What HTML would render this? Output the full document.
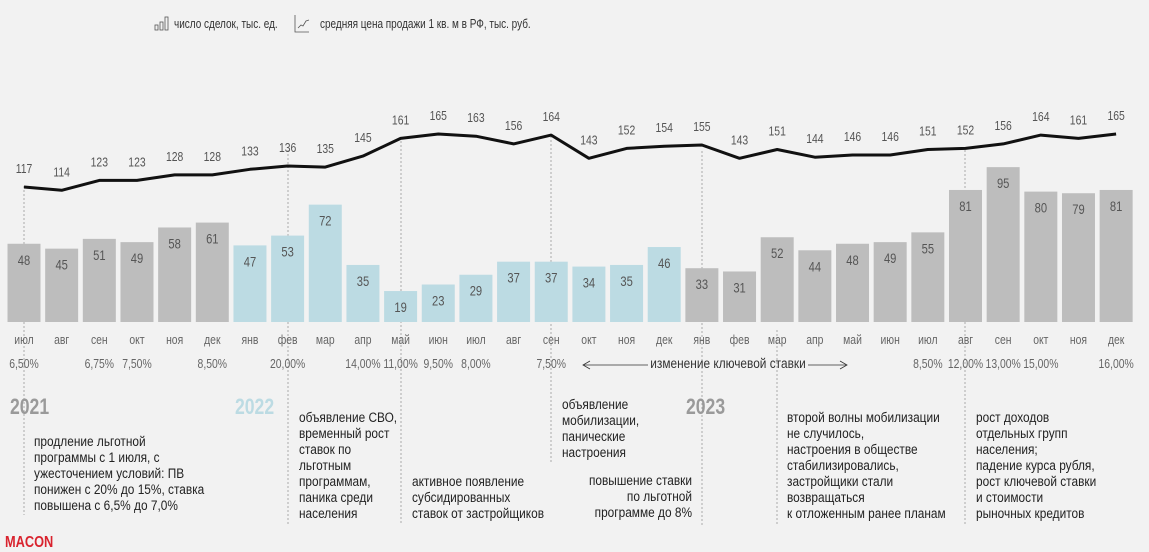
<!DOCTYPE html>
<html><head><meta charset="utf-8">
<style>
html,body{margin:0;padding:0;background:#f2f2f2;}
svg{display:block;font-family:"Liberation Sans Narrow","Liberation Sans",sans-serif;}
</style></head>
<body>
<svg id="s" width="1149" height="552" viewBox="0 0 1149 552" xmlns="http://www.w3.org/2000/svg">
<rect width="1149" height="552" fill="#f2f2f2"/>
<g fill="none" stroke="#555" stroke-width="0.8">
<rect x="155" y="25" width="3" height="5"/><rect x="160" y="22" width="3" height="8"/><rect x="165" y="17" width="3" height="13"/>
<polyline points="295,15 295,32 309,32"/><polyline points="298,28 301,25 303,26 306,21 309,20"/>
</g>
<g id="g"></g>
</svg>
<script>
var months=["июл","авг","сен","окт","ноя","дек","янв","фев","мар","апр","май","июн","июл","авг","сен","окт","ноя","дек","янв","фев","мар","апр","май","июн","июл","авг","сен","окт","ноя","дек"];
var bars=[48,45,51,49,58,61,47,53,72,35,19,23,29,37,37,34,35,46,33,31,52,44,48,49,55,81,95,80,79,81];
var line=[117,114,123,123,128,128,133,136,135,145,161,165,163,156,164,143,152,154,155,143,151,144,146,146,151,152,156,164,161,165];
var rates={0:"6,50%",2:"6,75%",3:"7,50%",5:"8,50%",7:"20,00%",9:"14,00%",10:"11,00%",11:"9,50%",12:"8,00%",14:"7,50%",24:"8,50%",25:"12,00%",26:"13,00%",27:"15,00%",29:"16,00%"};
var h="";
function cx(i){return 24+i*37.66;}
function ly(v){return 187-(v-117)*1.104;}
function T(x,y,s,size,fill,anchor,extra,sc){
 return '<text transform="translate('+x+','+y+') scale('+(sc||0.8)+',1)" font-size="'+size+'" fill="'+fill+'"'+(anchor?' text-anchor="'+anchor+'"':'')+(extra||'')+'>'+s+'</text>';
}
h+=T(174,28,"число сделок, тыс. ед.",12.5,"#333");
h+=T(320,28,"средняя цена продажи 1 кв. м в РФ, тыс. руб.",12.5,"#333");
var dl=[[24,186,515],[288,150,525],[401,137,525],[551,136,462],[702,151,525],[777,330,525],[965,150,525]];
dl.forEach(function(d){h+='<line x1="'+d[0]+'" y1="'+d[1]+'" x2="'+d[0]+'" y2="'+d[2]+'" stroke="#aaa" stroke-width="1" stroke-dasharray="2,2"/>';});
for(var i=0;i<30;i++){
 var x=cx(i),bh=bars[i]*1.63,bt=322-bh;
 var col=(i>=6&&i<=17)?"#bcdbe3":"#bdbdbd";
 h+='<rect x="'+(x-16.5)+'" y="'+bt+'" width="33" height="'+bh+'" fill="'+col+'"/>';
 h+=T(x,bt+21,bars[i],14,"#555","middle");
 h+=T(x,344,months[i],13,"#666","middle");
 if(rates[i])h+=T(x,368,rates[i],13,"#666","middle");
 h+=T(x,ly(line[i])-14,line[i],13,"#555","middle");
}
var pts=line.map(function(v,i){return cx(i).toFixed(1)+","+ly(v).toFixed(1);}).join(" ");
h+='<polyline points="'+pts+'" fill="none" stroke="#111" stroke-width="3" stroke-linejoin="round"/>';
h+='<line x1="583" y1="365" x2="648" y2="365" stroke="#333" stroke-width="0.8"/><polyline points="590,361 583,365 590,369" fill="none" stroke="#333" stroke-width="0.8"/>';
h+=T(728,368,"изменение ключевой ставки",13.5,"#333","middle",null,0.88);
h+='<line x1="808" y1="365" x2="847" y2="365" stroke="#333" stroke-width="0.8"/><polyline points="840,361 847,365 840,369" fill="none" stroke="#333" stroke-width="0.8"/>';
h+=T(10,414,"2021",22,"#9a9a9a",null,' font-weight="bold"');
h+=T(235,414,"2022",22,"#bcdbe3",null,' font-weight="bold"');
h+=T(686,414,"2023",22,"#9a9a9a",null,' font-weight="bold"');
h+=T(5,547,"MACON",16,"#d9232e",null,' font-weight="bold"');
function block(x,y,lines,anchor){lines.forEach(function(t,k){h+=T(x,y+k*16,t,13.5,"#222",anchor?"end":null,null,0.88);});}
block(34,446,["продление льготной","программы с 1 июля, с","ужесточением условий: ПВ","понижен с 20% до 15%, ставка","повышена с 6,5% до 7,0%"]);
block(299,422,["объявление СВО,","временный рост","ставок по","льготным","программам,","паника среди","населения"]);
block(412,486,["активное появление","субсидированных","ставок от застройщиков"]);
block(562,409,["объявление","мобилизации,","панические","настроения"]);
block(692,485,["повышение ставки","по льготной","программе до 8%"],1);
block(787,422,["второй волны мобилизации","не случилось,","настроения в обществе","стабилизировались,","застройщики стали","возвращаться","к отложенным ранее планам"]);
block(976,422,["рост доходов","отдельных групп","населения;","падение курса рубля,","рост ключевой ставки","и стоимости","рыночных кредитов"]);
document.getElementById("g").innerHTML=h;
</script>
</body></html>
